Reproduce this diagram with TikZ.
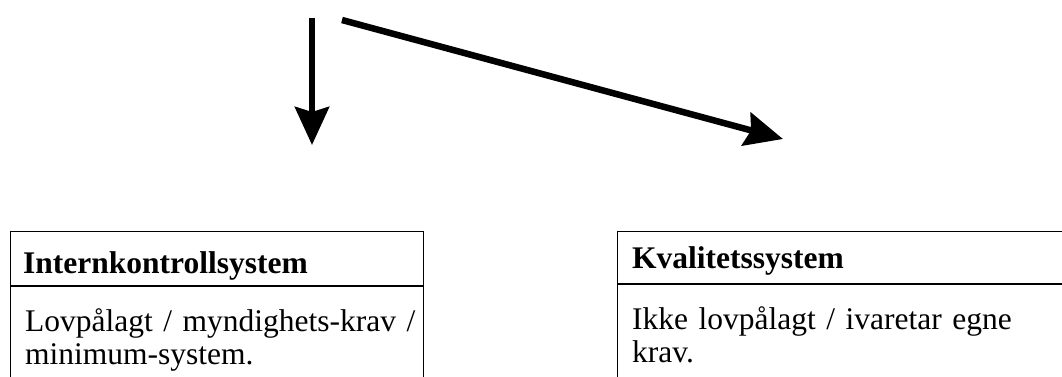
\documentclass[tikz,border=0pt]{standalone}
\usepackage{fontspec}
\setmainfont{Liberation Serif}
\usetikzlibrary{arrows.meta}

\begin{document}
\begin{tikzpicture}[x=1pt,y=1pt,
  boxpart/.style={draw=black, line width=1.2pt, inner sep=0pt, anchor=north west},
  headtext/.style={anchor=base west, inner sep=0pt, font=\fontsize{31.5}{33.5}\selectfont\bfseries},
  bodytext/.style={anchor=base west, inner sep=0pt, align=left, text width=400pt,
    font=\fontsize{31.5}{33.5}\selectfont},
  bigarrow/.style={line width=6.5pt, -{Stealth[length=38pt, width=34pt, inset=5pt]}}
]
\useasboundingbox (0,0) rectangle (1062,376);

% arrow end points
\coordinate (downstart) at (312,358);
\coordinate (downend) at (312,231);
\coordinate (slantstart) at (342,356);
\coordinate (slantend) at (783,237);

\draw[bigarrow] (downstart) -- (downend);
\draw[bigarrow] (slantstart) -- (slantend);

% left box: Internkontrollsystem
\node[boxpart, minimum width=413pt, minimum height=54pt] (ikhead) at (10,145) {};
\node[boxpart, minimum width=413pt, minimum height=91pt] (ikbody) at (ikhead.south west) {};
\node[headtext] (iktitle) at ([xshift=13pt, yshift=-42pt]ikhead.north west) {Internkontrollsystem};
\node[bodytext] (iktext) at ([xshift=15pt, yshift=-45pt]ikbody.north west)
  {Lovpålagt / myndighets-krav /\\minimum-system.};

% right box: Kvalitetssystem
\node[boxpart, minimum width=446pt, minimum height=52pt] (kvhead) at (617,145) {};
\node[boxpart, minimum width=446pt, minimum height=93pt] (kvbody) at (kvhead.south west) {};
\node[headtext] (kvtitle) at ([xshift=15pt, yshift=-37pt]kvhead.north west) {Kvalitetssystem};
\node[bodytext] (kvtext) at ([xshift=15pt, yshift=-45pt]kvbody.north west)
  {Ikke lovpålagt / ivaretar egne\\krav.};
\end{tikzpicture}
\end{document}
